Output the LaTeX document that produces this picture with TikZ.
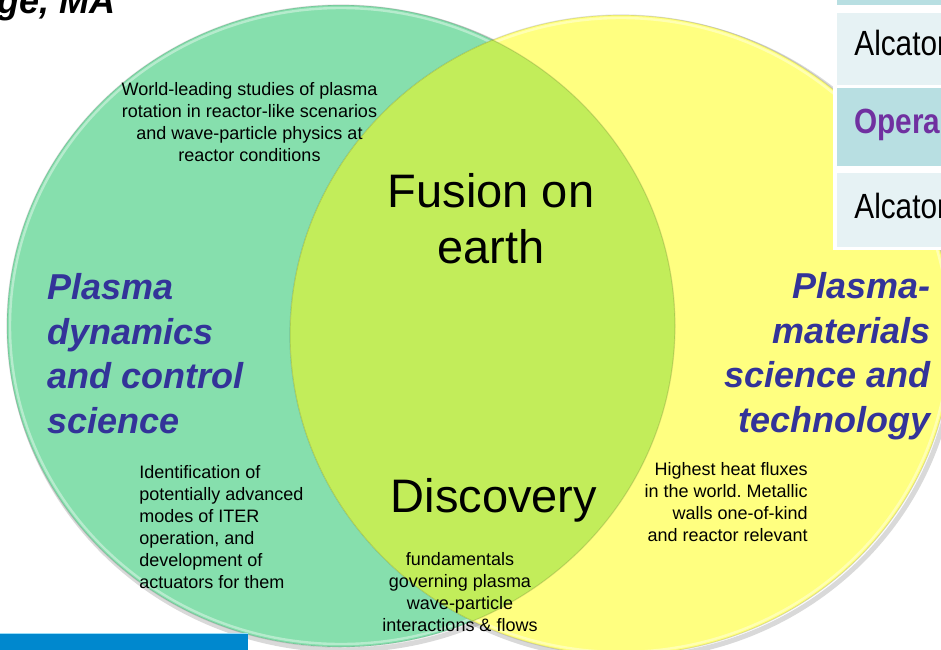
\documentclass[tikz,border=0pt]{standalone}
\usepackage{fontspec}
\setmainfont{Liberation Sans}
\newfontfamily\narrowfont[FakeStretch=0.85]{Liberation Sans}
\usepackage{tikz}
\frenchspacing
\definecolor{dyngreen}{RGB}{134,223,173}
\definecolor{matyellow}{RGB}{255,255,128}
\definecolor{lenslime}{RGB}{194,237,90}
\definecolor{labelblue}{RGB}{51,51,153}
\definecolor{celldark}{RGB}{184,223,226}
\definecolor{celllight}{RGB}{230,242,244}
\definecolor{opurple}{RGB}{112,48,160}
\definecolor{barblue}{RGB}{0,136,206}

\begin{document}
\begin{tikzpicture}[x=0.5pt,y=-0.5pt,
  note/.style={font=\fontsize{9}{11}\selectfont, inner sep=0pt},
  big/.style={font=\fontsize{23.5}{28}\selectfont, inner sep=0pt, align=center},
  area/.style={font=\fontsize{18}{22.2}\selectfont\bfseries\itshape, text=labelblue, inner sep=0pt},
  cell/.style={font=\narrowfont\fontsize{17.5}{21}\selectfont, inner sep=0pt, anchor=base west},
  cell head/.style={cell, font=\narrowfont\bfseries\fontsize{17.5}{21}\selectfont, text=opurple},
  rim/.style={draw=white, draw opacity=.4, line width=1.2pt},
  edge/.style={draw=black, draw opacity=.12, line width=.6pt},
  drop/.style={draw=black, draw opacity=.15, line width=2.5pt},
  dyn ring/.style={x radius=167pt, y radius=160.5pt},
  mat ring/.style={x radius=165.5pt, y radius=160pt},
  ]
  \useasboundingbox (0,0) rectangle (941,649);
  \coordinate (dyn) at (341,326);
  \coordinate (mat) at (621,335);

  \draw[drop] ([shift={(3,3)}]dyn) ellipse [dyn ring];
  \draw[drop] ([shift={(3,3)}]mat) ellipse [mat ring];
  \fill[dyngreen] (dyn) ellipse [dyn ring];
  \draw[rim] (dyn) ellipse [x radius=165.5pt, y radius=159pt];
  \fill[matyellow] (mat) ellipse [mat ring];
  \draw[rim] (mat) ellipse [x radius=164pt, y radius=158.5pt];
  \begin{scope}
    \clip (dyn) ellipse [dyn ring];
    \fill[lenslime] (mat) ellipse [mat ring];
  \end{scope}
  \draw[edge] (dyn) ellipse [dyn ring];
  \draw[edge] (mat) ellipse [mat ring];

  \node[font=\fontsize{18}{22}\selectfont\bfseries\itshape, inner sep=0pt, anchor=base west] (title) at (-3,13) {ge, MA};

  \node[note, align=center, anchor=base] (rot) at (249.5,161) {World-leading studies of plasma\\rotation in reactor-like scenarios\\and wave-particle physics at\\reactor conditions};
  \node[big, anchor=base] (fusion) at (491,263) {Fusion on\\earth};
  \node[big, anchor=base] (disc) at (494,512) {Discovery};
  \node[note, align=center, anchor=base] (fund) at (460,631) {fundamentals\\governing plasma\\wave-particle\\interactions \& flows};
  \node[note, align=left, anchor=base west] (iter) at (139,588) {Identification of\\potentially advanced\\modes of ITER\\operation, and\\development of\\actuators for them};
  \node[note, align=right, anchor=base east] (heat) at (808,541) {Highest heat fluxes\\in the world. Metallic\\walls one-of-kind\\and reactor relevant};
  \node[area, align=left, anchor=base west] (dynlbl) at (47,433) {Plasma\\dynamics\\and control\\science};
  \node[area, align=right, anchor=base east] (matlbl) at (931,432) {Plasma-\\materials\\science and\\technology};

  \fill[white] (833,-5) rectangle (950,250);
  \fill[celldark] (837,-5) rectangle (950,5);
  \fill[celllight] (837,13) rectangle (950,85);
  \fill[celldark] (837,88) rectangle (950,166);
  \fill[celllight] (837,173) rectangle (950,247);
  \node[cell] (alc1) at (854,55) {Alcator};
  \node[cell head] (oper) at (854,133) {Opera};
  \node[cell] (alc2) at (854,218) {Alcator};

  \fill[barblue] (0,633) rectangle (248,655);
  \draw[cyan!40, line width=.5pt] (0,633) -- (248,633);
\end{tikzpicture}
\end{document}
